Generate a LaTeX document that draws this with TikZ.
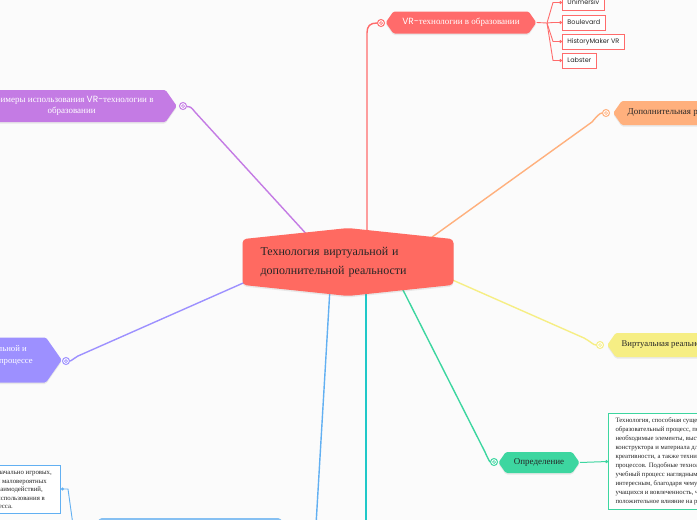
\documentclass[tikz,border=0pt]{standalone}
\usepackage{fontspec}
\setmainfont{Liberation Serif}
\newfontfamily\poppins{Poppins}
\usepackage{xcolor}
\usetikzlibrary{shapes.symbols, arrows.meta, shadows}

\definecolor{paper}{HTML}{FBFBFB}
\definecolor{cInk}{HTML}{262626}
\definecolor{cRoot}{HTML}{FF6A61}
\definecolor{cRed}{HTML}{FF6B6B}
\definecolor{cPurple}{HTML}{C47BE4}
\definecolor{cOrange}{HTML}{FFB07D}
\definecolor{cYellow}{HTML}{F6EE84}
\definecolor{cViolet}{HTML}{9D90FF}
\definecolor{cGreen}{HTML}{3DD6A0}
\definecolor{cBlue}{HTML}{62B0F2}
\definecolor{cBlueNode}{HTML}{86C0F2}
\definecolor{cTeal}{HTML}{1FC8C8}

\begin{document}
\begin{tikzpicture}[
    x=1pt, y=-1pt,
    soft shadow/.style={drop shadow={opacity=0.15, shadow xshift=0pt, shadow yshift=-1.5pt}},
    root/.style={signal, signal to=north and south, signal pointer angle=168, fill=cRoot, rounded corners=4pt, text width=175pt, align=left, inner xsep=18pt, inner ysep=8pt, font=\fontsize{12}{19}\selectfont, text=cInk, soft shadow},
    branch/.style={signal, signal to=east and west, signal pointer angle=110, fill=#1, rounded corners=1.5pt, inner ysep=0pt, soft shadow},
    hub/.style={circle, draw=#1, fill=white, line width=1pt, minimum size=7pt, inner sep=0pt, path picture={\draw[#1, line width=0.7pt] (path picture bounding box.center) circle[radius=1.5pt];}},
    link/.style={draw=#1, line width=1.4pt},
    twig/.style={draw=#1, line width=0.9pt, -{Circle[length=3pt]}},
    leaf/.style={rectangle, draw=cRed, fill=white, line width=0.9pt, font=\fontsize{6.5}{8}\poppins, text=cInk, inner xsep=5pt, inner ysep=0pt, minimum height=15pt, anchor=west},
    note/.style={rectangle, draw=#1, fill=white, line width=0.9pt, align=left, font=\fontsize{6.7}{9}\selectfont, text=cInk},
    fragment/.style={anchor=base east, inner sep=0pt, font=\fontsize{#1}{10}\selectfont},
  ]

    \path[fill=paper, use as bounding box] (0,0) rectangle (697,520);

    % Hubs
    \node[hub=cRed] (vrHub) at (381,23) {};
    \node[hub=cPurple] (exHub) at (183,106) {};
    \node[hub=cOrange] (addHub) at (606,113) {};
    \node[hub=cYellow] (virtHub) at (600,345) {};
    \node[hub=cViolet] (useHub) at (66,361) {};
    \node[hub=cGreen] (defHub) at (494,462) {};

    % Links from the root
    \coordinate (rVR) at (367,240);
    \coordinate (rEx) at (310,238);
    \coordinate (rAdd) at (428,240);
    \coordinate (rVirt) at (448,278);
    \coordinate (rUse) at (250,280);
    \coordinate (rDef) at (402,288);
    \coordinate (rBlue) at (330,288);
    \coordinate (rTeal) at (366,288);
    \coordinate (blueEnd) at (316,525);
    \coordinate (tealEnd) at (366,525);

    \draw[link=cRed] (rVR) -- (367,33) .. controls (367,26) and (370,23) .. (vrHub);
    \draw[link=cPurple] (rEx) -- (195,112) .. controls (191,107) .. (exHub);
    \draw[link=cOrange] (rAdd) -- (592,122) .. controls (597,116) and (600,113) .. (addHub);
    \draw[link=cYellow] (rVirt) -- (584,338) .. controls (590,341) and (593,345) .. (virtHub);
    \draw[link=cViolet] (rUse) -- (78,356) .. controls (73,359) and (71,361) .. (useHub);
    \draw[link=cGreen] (rDef) -- (485,452) .. controls (488,459) and (490,462) .. (defHub);
    \draw[link=cBlue] (rBlue) -- (blueEnd);
    \draw[link=cTeal] (rTeal) -- (tealEnd);

    % Root
    \node[root] (root) at (348,262) {Технология виртуальной и\\дополнительной реальности};

    % Branches
    \node[branch=cRed, text=white, font=\fontsize{9}{11}\selectfont, inner xsep=9pt, minimum height=22pt] (vr) at (461,22.5) {{\poppins VR-}технологии в образовании};
    \node[branch=cPurple, anchor=east, text=white, align=center, font=\fontsize{9}{11}\selectfont, inner xsep=12pt, minimum height=32pt] (examples) at (177,106) {Примеры использования {\poppins VR-}технологии в\\образовании};
    \node[branch=cOrange, anchor=west, text=cInk, font=\fontsize{9}{10}\selectfont, inner xsep=6pt, minimum height=24pt] (additional) at (613,113) {Дополнительная реальность};
    \node[branch=cYellow, anchor=west, text=cInk, font=\fontsize{8.7}{10}\selectfont, inner xsep=6pt, minimum height=24pt] (virtual) at (607,345) {Виртуальная реальность};
    \node[branch=cViolet, anchor=east, inner xsep=70pt, minimum height=45pt] (usage) at (62,360) {};
    \node[fragment=8.7, text=white] (usageA) at (27,351) {виртуальной и};
    \node[fragment=8.7, text=white] (usageB) at (33,363.5) {в образовательном процессе};
    \node[branch=cGreen, text=cInk, font=\fontsize{9}{11}\selectfont, inner xsep=8pt, minimum height=21pt] (definition) at (539,462.5) {Определение};
    \node[branch=cBlueNode, anchor=north, inner xsep=90pt, minimum height=26pt] (blueBranch) at (190,518) {};

    % Leaves of the VR branch
    \coordinate (vrFork) at (547,23);
    \draw[link=cRed, line width=0.9pt] (vr.east) -- (vrFork);
    \foreach \name/\txt/\y in {unimersiv/Unimersiv/2.5, boulevard/Boulevard/22.5, historymaker/HistoryMaker VR/41.5, labster/Labster/60.5} {
      \node[leaf] (\name) at (562,\y) {\txt};
      \draw[twig=cRed] (vrFork) -- (553,\y) -- (\name.west);
    }

    % Notes
    \node[note=cGreen, anchor=west, inner xsep=7pt, inner ysep=4pt, line width=1pt] (defNote) at (608,461.5) {Технология, способная существенно изменить\\образовательный процесс, позволяя создать все\\необходимые элементы, выступая в роли\\конструктора и материала для развития\\креативности, а также технического понимания\\процессов. Подобные технологии делают\\учебный процесс наглядным и более\\интересным, благодаря чему повышается\\учащихся и вовлеченность, что оказывает\\положительное влияние на результат обучения.};
    \draw[twig=cGreen, line width=1pt] (definition.east) -- (defNote.west);

    \node[note=cBlue, anchor=east, minimum width=150pt, minimum height=48pt] (exampleNote) at (61,489) {};
    \foreach \txt/\xe/\yb [count=\i] in {{изначально игровых,}/52/474.5, {и маловероятных}/47/483, {взаимодействий,}/43/491.5, {использования в}/45/500, {процесса.}/13/508.5}
      \node[fragment=6.8, text=cInk] (noteLine\i) at (\xe,\yb) {\txt};
    \coordinate (blueFork) at (73,525);
    \draw[twig=cBlue] (blueFork) -- (68,489) -- (exampleNote.east);

  \end{tikzpicture}
\end{document}
